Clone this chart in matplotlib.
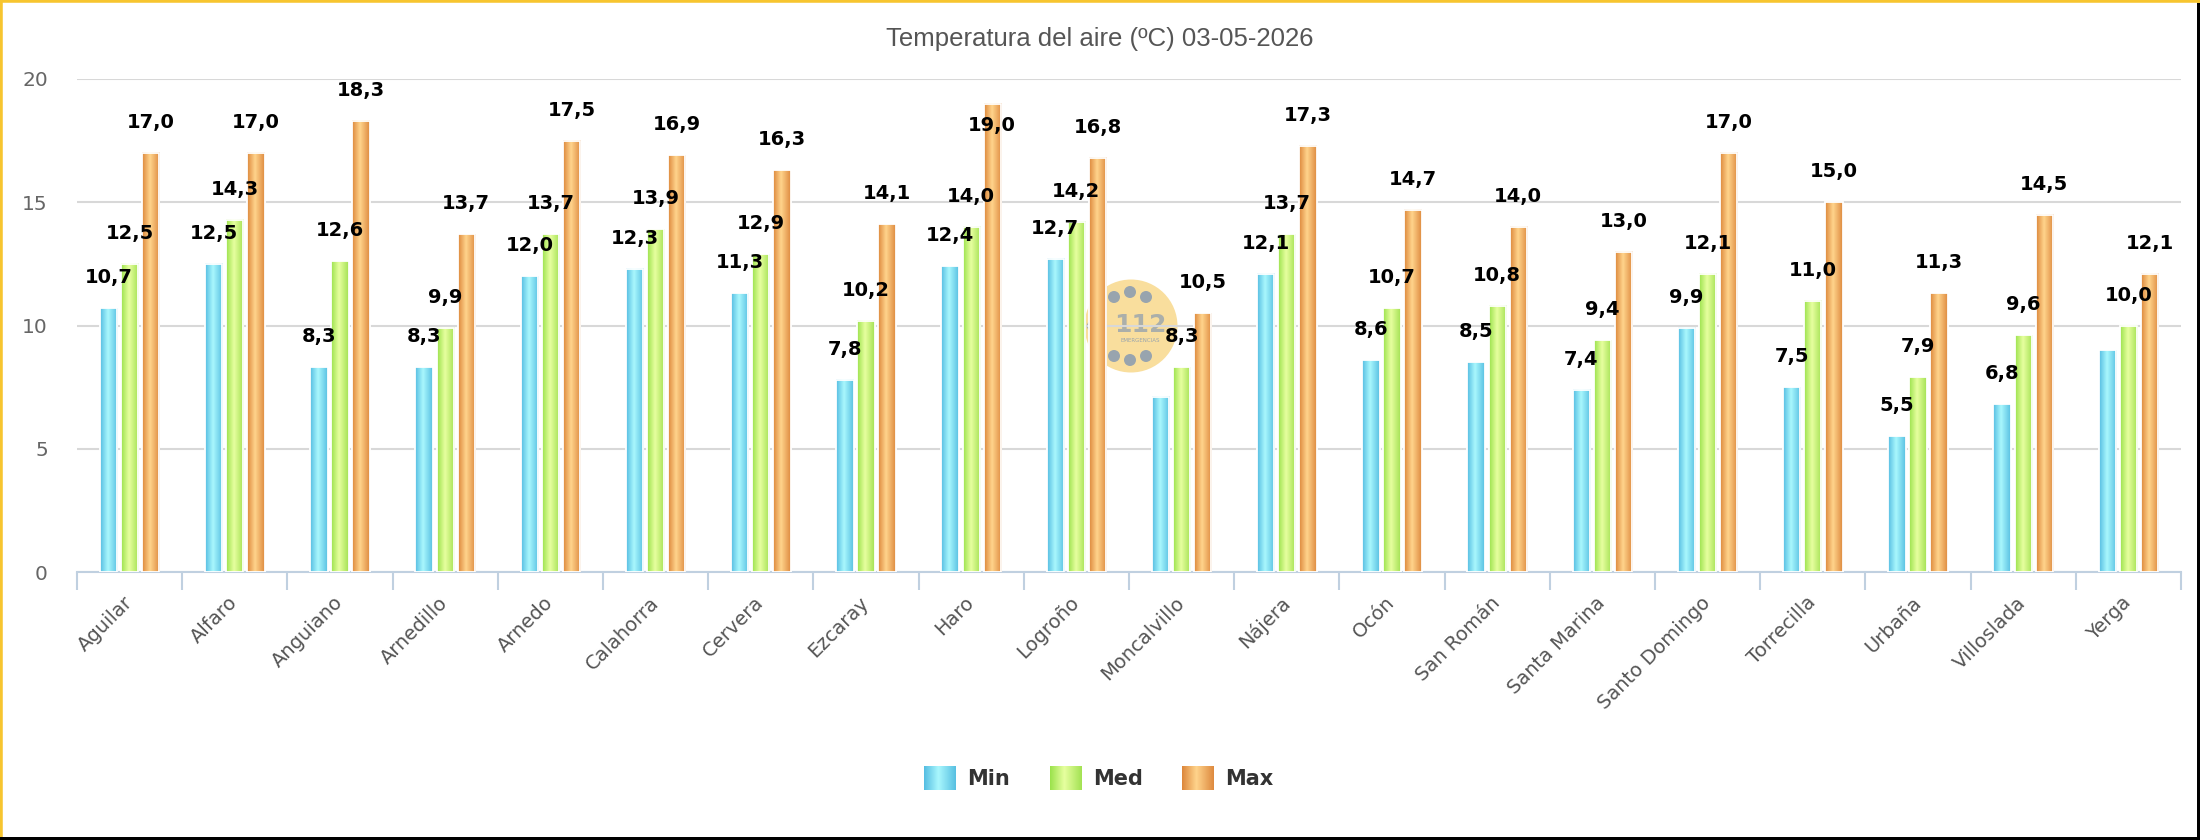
import numpy as np
import matplotlib.pyplot as plt
from matplotlib.colors import LinearSegmentedColormap
from matplotlib.patches import Circle, Rectangle

estaciones = ['Aguilar', 'Alfaro', 'Anguiano', 'Arnedillo', 'Arnedo', 'Calahorra',
              'Cervera', 'Ezcaray', 'Haro', 'Logroño', 'Moncalvillo', 'Nájera',
              'Ocón', 'San Román', 'Santa Marina', 'Santo Domingo', 'Torrecilla',
              'Urbaña', 'Villoslada', 'Yerga']
t_min = [10.7, 12.5, 8.3, 8.3, 12.0, 12.3, 11.3, 7.8, 12.4, 12.7, 7.1, 12.1,
         8.6, 8.5, 7.4, 9.9, 7.5, 5.5, 6.8, 9.0]
t_med = [12.5, 14.3, 12.6, 9.9, 13.7, 13.9, 12.9, 10.2, 14.0, 14.2, 8.3, 13.7,
         10.7, 10.8, 9.4, 12.1, 11.0, 7.9, 9.6, 10.0]
t_max = [17.0, 17.0, 18.3, 13.7, 17.5, 16.9, 16.3, 14.1, 19.0, 16.8, 10.5, 17.3,
         14.7, 14.0, 13.0, 17.0, 15.0, 11.3, 14.5, 12.1]
series = ['Min', 'Med', 'Max']
titulo = 'Temperatura del aire (ºC) 03-05-2026'

# colores degradados (borde, centro, borde)
grad = {
    'Min': ['#55bde2', '#a9f7fd', '#58c0e2'],
    'Med': ['#9be24c', '#e7ff9f', '#a3e253'],
    'Max': ['#dd873b', '#ffd48c', '#de8a3f'],
}

W, H = 2200, 840
fig = plt.figure(figsize=(W / 100, H / 100), dpi=100)
ax = fig.add_axes([77 / W, 1 - 572 / H, (2181 - 77) / W, (572 - 79) / H])

x = np.arange(len(estaciones))
offsets = [-0.2, 0.0, 0.2]
ancho = 0.165
ramp = np.linspace(0, 1, 64)

datos = [t_min, t_med, t_max]
for s, vals, off in zip(series, datos, offsets):
    cmap = LinearSegmentedColormap.from_list(s, list(zip([0, 0.45, 1], grad[s])))
    img = cmap(ramp)[np.newaxis, :, :3]
    bars = ax.bar(x + off, vals, ancho, facecolor='none', edgecolor='white',
                  linewidth=1.3, zorder=4)
    for r in bars:
        ax.imshow(img, extent=[r.get_x(), r.get_x() + r.get_width(), 0, r.get_height()],
                  aspect='auto', interpolation='bilinear', zorder=3)

ax.set_xlim(-0.5, len(estaciones) - 0.5)
ax.set_ylim(0, 20)

# etiquetas de datos (se ocultan si se solapan con la de la serie siguiente)
px_unit = (572 - 79) / 20
for i in range(len(estaciones)):
    for k, (vals, off) in enumerate(zip(datos, offsets)):
        v = vals[i]
        if k < 2 and datos[k + 1][i] - v < 1.3:
            continue
        txt = f'{v:.1f}'.replace('.', ',')
        if v * px_unit + 25 + 14 > 493:
            dy = -19.5
        else:
            dy = 18
        ax.annotate(txt, (i + off, v), xytext=(0, dy), textcoords='offset points',
                    ha='center', va='baseline', fontsize=14, fontweight='bold',
                    color='black', zorder=6)

# ejes
ax.set_yticks([0, 5, 10, 15, 20])
ax.tick_params(axis='y', length=0, labelsize=14.5, labelcolor='#666666', pad=21)
ax.yaxis.grid(True, color='#d8d8d8', linewidth=1.5)
ax.set_axisbelow(True)
ax.set_xticks(x)
ax.set_xticklabels(estaciones, rotation=45, ha='right', va='center',
                   rotation_mode='anchor', fontsize=14, color='#555555')
ax.set_xticks(np.arange(-0.5, len(estaciones)), minor=True)
ax.tick_params(axis='x', which='major', length=0, pad=20)
ax.tick_params(axis='x', which='minor', length=13, width=1.5, color='#c0d0e0')
for sp in ['top', 'right', 'left']:
    ax.spines[sp].set_visible(False)
ax.spines['bottom'].set_color('#c0d0e0')
ax.spines['bottom'].set_linewidth(1.5)

# marca de agua 112
ax.add_patch(Circle((11.31, 8.40 - 3.26), 0.465, transform=fig.dpi_scale_trans,
                    facecolor='#f8d98c', alpha=0.85, edgecolor='none', zorder=0.2))
for dx, dy in [(-0.17, 0.29), (-0.01, 0.34), (0.15, 0.29),
               (-0.17, -0.30), (-0.01, -0.34), (0.15, -0.30), (-0.38, 0.0)]:
    ax.add_patch(Circle((11.31 + dx, 5.14 + dy), 0.06, transform=fig.dpi_scale_trans,
                        facecolor='#98a4ae', edgecolor='none', zorder=0.25))
ax.text(11.40, 5.15, '112', transform=fig.dpi_scale_trans, ha='center', va='center',
        fontsize=18, fontweight='bold', color='#98a4ae', alpha=0.8, zorder=0.25)
ax.text(11.40, 4.99, 'EMERGENCIAS', transform=fig.dpi_scale_trans, ha='center',
        va='center', fontsize=4, color='#98a4ae', zorder=0.25)

# título
fig.text(0.5, 1 - 39 / H, titulo, ha='center', va='center', fontsize=18.5,
         color='#555555', family=['Liberation Sans', 'DejaVu Sans'])

# leyenda
for s, x0, lab in zip(series, [924, 1050, 1182], series):
    cmap = LinearSegmentedColormap.from_list(s, list(zip([0, 0.45, 1], grad[s])))
    lax = fig.add_axes([x0 / W, 1 - 790 / H, 32 / W, 24 / H])
    lax.imshow(cmap(ramp)[np.newaxis, :, :3], aspect='auto', interpolation='bilinear')
    lax.axis('off')
    fig.text((x0 + 43) / W, 1 - 779 / H, lab, ha='left', va='center', fontsize=15,
             fontweight='bold', color='#333333')

# marco
fig.patches.append(Rectangle((0, 0), W, H, transform=None, fill=False,
                             edgecolor='#f7c52f', linewidth=4))
fig.patches.append(Rectangle((W - 3, 0), 3, H - 3, transform=None,
                             facecolor='black', edgecolor='none'))
fig.patches.append(Rectangle((0, 0), W - 3, 3, transform=None,
                             facecolor='black', edgecolor='none'))

fig.savefig('out.png', dpi=100, facecolor='white')
